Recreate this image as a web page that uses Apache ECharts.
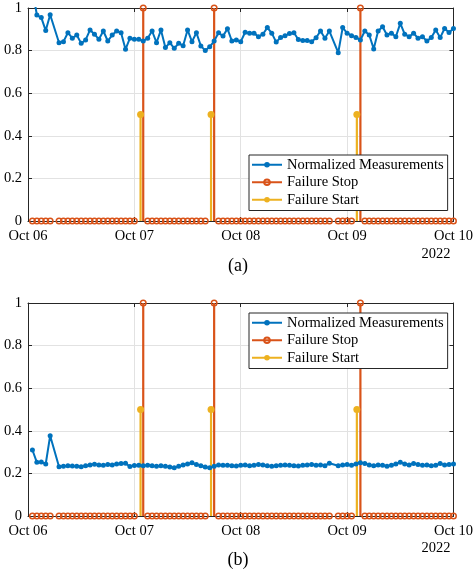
<!DOCTYPE html>
<html>
<head>
	<meta charset="utf-8">
	<title>Normalized Measurements</title>
	<script src="https://cdn.jsdelivr.net/npm/echarts@6/dist/echarts.min.js"></script>
	<style>html, body { margin: 0; padding: 0; background: #fff; }</style>
</head>
<body>
	<div id="main" style="width: 476px; height: 575px;"></div>

	<script type="text/javascript">
		// tick labels of the time axis (one per day, x is hours since Oct 06 00:00)
		var dayLabels = ['Oct 06', 'Oct 07', 'Oct 08', 'Oct 09', 'Oct 10'];
		// hourly samples, first one at 01:00 on Oct 06, null = no sample
		var firstHour = 1;
		var measA = [
			1.09, 0.967, 0.955, 0.894, 0.968, null, 0.837, 0.842, 0.884, 0.858, 0.873, 0.834,
			0.850, 0.897, 0.877, 0.853, 0.892, 0.845, 0.873, 0.892, 0.884, 0.806, 0.858, 0.853,
			0.853, 0.845, 0.858, 0.892, 0.837, 0.897, 0.814, 0.837, 0.811, 0.834, 0.823, 0.897,
			0.842, 0.884, 0.822, 0.800, 0.818, 0.845, 0.884, 0.868, 0.903, 0.845, 0.850, 0.842,
			0.886, 0.882, 0.882, 0.865, 0.877, 0.908, 0.882, 0.840, 0.862, 0.870, 0.880, 0.884,
			0.852, 0.847, 0.848, 0.842, 0.860, 0.892, 0.858, 0.892, null, 0.790, 0.908, 0.882,
			0.870, 0.862, 0.850, 0.892, 0.873, 0.808, 0.892, 0.912, 0.873, 0.882, 0.865, 0.928,
			0.877, 0.865, 0.882, 0.858, 0.865, 0.845, 0.861, 0.897, 0.861, 0.904, 0.885, 0.904
		];
		var measB = [
			0.310, 0.252, 0.253, 0.244, 0.377, null, 0.231, 0.234, 0.236, 0.235, 0.233, 0.231,
			0.236, 0.240, 0.243, 0.240, 0.238, 0.242, 0.240, 0.244, 0.246, 0.248, 0.232, 0.237,
			0.238, 0.236, 0.238, 0.236, 0.234, 0.236, 0.233, 0.230, 0.226, 0.233, 0.240, 0.244,
			0.250, 0.242, 0.236, 0.230, 0.226, 0.233, 0.240, 0.238, 0.238, 0.236, 0.235, 0.238,
			0.240, 0.236, 0.238, 0.242, 0.240, 0.236, 0.234, 0.236, 0.238, 0.240, 0.238, 0.236,
			0.235, 0.238, 0.240, 0.242, 0.238, 0.240, 0.236, 0.248, null, 0.236, 0.240, 0.242,
			0.238, 0.244, 0.250, 0.246, 0.240, 0.236, 0.240, 0.238, 0.234, 0.238, 0.244, 0.252,
			0.244, 0.240, 0.246, 0.242, 0.238, 0.240, 0.236, 0.238, 0.246, 0.240, 0.242, 0.244
		];
		// failures
		var stopHours = [26, 42, 75];
		var stopValue = 1;
		var startHours = [25.4, 41.3, 74.2];
		var startValue = 0.5;
		var noBaseHours = [25, 41, 74]; // samples inside a failure, no stop marker

		var colors = ['#0072BD', '#D95319', '#EDB120'];
		var font = 'Liberation Serif';
		var axisColor = '#262626';
		var gridColor = '#e2e2e2';

		function measPairs(vals) {
			return vals.map(function (v, i) { return [firstHour + i, v]; });
		}
		function stopPairs(vals) {
			var out = [];
			vals.forEach(function (v, i) {
				var h = firstHour + i;
				if (v === null || noBaseHours.indexOf(h) >= 0) return;
				out.push([h, stopHours.indexOf(h) >= 0 ? stopValue : 0]);
			});
			return out;
		}
		function startPairs() {
			return startHours.map(function (h) { return [h, startValue]; });
		}
		function stemRender(color) {
			return function (params, api) {
				var p0 = api.coord([api.value(0), 0]);
				var p1 = api.coord([api.value(0), api.value(1)]);
				return {
					type: 'line',
					shape: { x1: p0[0], y1: p0[1], x2: p1[0], y2: p1[1] },
					style: { stroke: color, lineWidth: 2.2 }
				};
			};
		}

		function xAx(gi, pos) {
			return {
				type: 'value', gridIndex: gi, position: pos,
				min: 0, max: 96, interval: 24,
				axisLine: { show: true, onZero: false, lineStyle: { color: axisColor, width: 1 } },
				axisTick: { show: true, inside: true, length: 4, lineStyle: { color: axisColor } },
				axisLabel: pos === 'bottom' ? {
					show: true, margin: 8, color: '#000', fontFamily: font, fontSize: 14.5,
					showMinLabel: true, showMaxLabel: true,
					formatter: function (v) { return dayLabels[Math.round(v / 24)]; }
				} : { show: false },
				splitLine: { show: pos === 'bottom', lineStyle: { color: gridColor } }
			};
		}
		function yAx(gi, pos) {
			return {
				type: 'value', gridIndex: gi, position: pos,
				min: 0, max: 1, interval: 0.2,
				axisLine: { show: true, onZero: false, lineStyle: { color: axisColor, width: 1 } },
				axisTick: { show: true, inside: true, length: 4, lineStyle: { color: axisColor } },
				axisLabel: pos === 'left' ? {
					show: true, margin: 6, color: '#000', fontFamily: font, fontSize: 14.5
				} : { show: false },
				splitLine: { show: pos === 'left', lineStyle: { color: gridColor } }
			};
		}
		function legendAt(top) {
			return {
				orient: 'vertical', left: 249, top: top,
				itemWidth: 30, itemHeight: 7, itemGap: 0,
				padding: [1, 4, 2, 2],
				borderColor: axisColor, borderWidth: 1, borderRadius: 0,
				backgroundColor: '#fff', selectedMode: false,
				textStyle: { fontFamily: font, fontSize: 14.5, color: '#000', lineHeight: 17.5 },
				data: [
					{ name: 'Normalized Measurements' },
					{ name: 'Failure Stop', lineStyle: { color: colors[1], width: 2, opacity: 1 } },
					{ name: 'Failure Start', lineStyle: { color: colors[2], width: 2, opacity: 1 } }
				]
			};
		}
		function seriesFor(gi, vals) {
			return [{
				name: 'Normalized Measurements', type: 'line',
				xAxisIndex: gi * 2, yAxisIndex: gi * 2,
				data: measPairs(vals), connectNulls: true, clip: true,
				symbol: 'circle', symbolSize: 5, showAllSymbol: true,
				lineStyle: { color: colors[0], width: 2 },
				itemStyle: { color: colors[0] }, z: 2
			}, {
				name: 'stopStem', type: 'custom',
				xAxisIndex: gi * 2, yAxisIndex: gi * 2,
				data: stopHours.map(function (h) { return [h, stopValue]; }),
				renderItem: stemRender(colors[1]), z: 2
			}, {
				name: 'Failure Stop', type: 'line',
				xAxisIndex: gi * 2, yAxisIndex: gi * 2,
				data: stopPairs(vals), clip: false,
				symbol: 'circle', symbolSize: 5.5, showAllSymbol: true,
				lineStyle: { color: colors[1], opacity: 0 },
				itemStyle: { color: 'rgba(255,255,255,0)', borderColor: colors[1], borderWidth: 1.5 },
				z: 3
			}, {
				name: 'startStem', type: 'custom',
				xAxisIndex: gi * 2, yAxisIndex: gi * 2,
				data: startPairs(),
				renderItem: stemRender(colors[2]), z: 2
			}, {
				name: 'Failure Start', type: 'line',
				xAxisIndex: gi * 2, yAxisIndex: gi * 2,
				data: startPairs(), clip: false,
				symbol: 'circle', symbolSize: 7,
				lineStyle: { color: colors[2], opacity: 0 },
				itemStyle: { color: colors[2] }, z: 3
			}];
		}

		var myChart = echarts.init(document.getElementById('main'));
		var option = {
			animation: false,
			grid: [
				{ left: 28, top: 8, width: 427, height: 213 },
				{ left: 28, top: 303, width: 427, height: 213 }
			],
			xAxis: [xAx(0, 'bottom'), xAx(0, 'top'), xAx(1, 'bottom'), xAx(1, 'top')],
			yAxis: [yAx(0, 'left'), yAx(0, 'right'), yAx(1, 'left'), yAx(1, 'right')],
			legend: [legendAt(155), legendAt(313)],
			series: seriesFor(0, measA).concat(seriesFor(1, measB)),
			graphic: [
				{ type: 'text', x: 436, y: 254, style: { text: '2022', align: 'center', verticalAlign: 'middle', font: '14.5px "Liberation Serif"', fill: '#000' } },
				{ type: 'text', x: 238, y: 266, style: { text: '(a)', align: 'center', verticalAlign: 'middle', font: '18px "Liberation Serif"', fill: '#000' } },
				{ type: 'text', x: 436, y: 548, style: { text: '2022', align: 'center', verticalAlign: 'middle', font: '14.5px "Liberation Serif"', fill: '#000' } },
				{ type: 'text', x: 238, y: 560, style: { text: '(b)', align: 'center', verticalAlign: 'middle', font: '18px "Liberation Serif"', fill: '#000' } }
			]
		};
		myChart.setOption(option);
	</script>
</body>
</html>
